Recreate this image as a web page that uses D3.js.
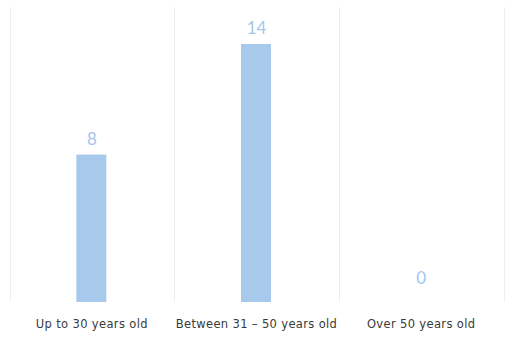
<!DOCTYPE html>
<html><head><meta charset="utf-8">
<script src="https://cdn.jsdelivr.net/npm/d3@7"></script>
<style>body{margin:0;background:#fff}</style>
</head><body>
<svg id="chart" width="514" height="352"></svg>
<script>
const categories = ["Up to 30 years old", "Between 31 – 50 years old", "Over 50 years old"];
const values = [8, 14, 0];
const yMax = 16;

const svg = d3.select("#chart");
const margin = {left: 9.5, right: 10.5, top: 7, bottom: 50};
const W = 514, H = 352;
const x = d3.scaleBand().domain(categories).range([margin.left, W - margin.right]).paddingInner(0).paddingOuter(0);
const y = d3.scaleLinear().domain([0, yMax]).range([H - margin.bottom, H - margin.bottom - yMax * 18.43]);

// vertical grid lines at band boundaries
const bounds = categories.map(c => x(c)).concat([x.range()[1]]);
svg.selectAll("line.grid").data(bounds).enter().append("line")
  .attr("class", "grid")
  .attr("x1", d => Math.round(d) + 0.5).attr("x2", d => Math.round(d) + 0.5)
  .attr("y1", margin.top).attr("y2", H - margin.bottom)
  .attr("stroke", "#eeeeee").attr("stroke-width", 1);

const bw = 30;
svg.selectAll("rect.bar").data(values).enter().append("rect")
  .attr("class", "bar")
  .attr("x", (d, i) => x(categories[i]) + x.bandwidth() / 2 - bw / 2 - 0.5)
  .attr("y", d => y(d))
  .attr("width", bw)
  .attr("height", d => y(0) - y(d))
  .attr("fill", "#a7caec");

svg.selectAll("text.val").data(values).enter().append("text")
  .attr("class", "val")
  .attr("x", (d, i) => x(categories[i]) + x.bandwidth() / 2)
  .attr("y", d => Math.min(y(d), y(0) - 8) - 10)
  .attr("text-anchor", "middle")
  .attr("font-family", "Lato, 'DejaVu Sans', sans-serif")
  .attr("font-size", 17)
  .attr("fill", "#a3c6ee")
  .text(d => d);

svg.selectAll("text.cat").data(categories).enter().append("text")
  .attr("class", "cat")
  .attr("x", d => x(d) + x.bandwidth() / 2)
  .attr("y", 328)
  .attr("text-anchor", "middle")
  .attr("font-family", "'DejaVu Sans', sans-serif")
  .attr("font-size", 11.5)
  .attr("letter-spacing", 0.35)
  .attr("fill", "#3a3a3a")
  .text(d => d);
</script>
</body></html>
